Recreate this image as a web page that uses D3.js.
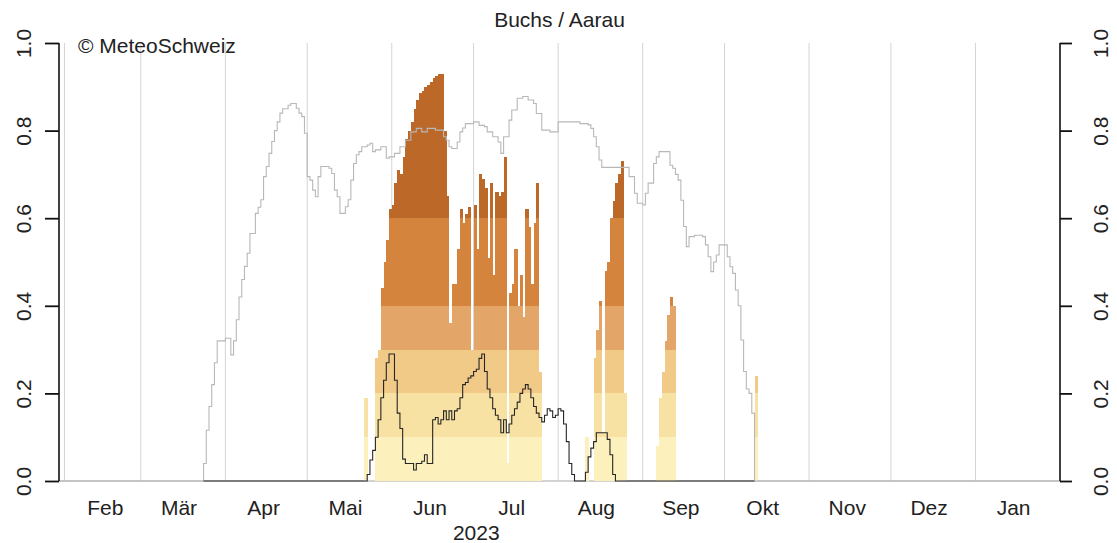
<!DOCTYPE html>
<html><head><meta charset="utf-8">
<script src="https://cdn.jsdelivr.net/npm/d3@7"></script>
<style>
body{margin:0;background:#fff}
svg{display:block;font-family:"Liberation Sans",Arial,Helvetica,sans-serif}
</style>
</head><body>
<svg id="chart" width="1117" height="543"></svg>
<script>
// ---------- data ----------
const xDomain = ["2023-01-30", "2024-02-01"];
const yTicks = [0, 0.2, 0.4, 0.6, 0.8, 1.0];
const monthLabels = ["Feb","Mär","Apr","Mai","Jun","Jul","Aug","Sep","Okt","Nov","Dez","Jan"];
const monthLabelDates = ["2023-02-16","2023-03-15","2023-04-15","2023-05-15","2023-06-15","2023-07-15",
  "2023-08-15","2023-09-15","2023-10-15","2023-11-15","2023-12-15","2024-01-15"];
const gridDates = ["2023-02-01","2023-03-01","2023-04-01","2023-05-01","2023-06-01","2023-07-01",
  "2023-08-01","2023-09-01","2023-10-01","2023-11-01","2023-12-01","2024-01-01"];
const yearLabel = "2023";
const yearLabelDate = "2023-07-02";
const titleText = "Buchs / Aarau";
const creditText = "© MeteoSchweiz";

// class edges and colours of the daily bars
const bandEdges = [0, 0.1, 0.2, 0.3, 0.4, 0.6, 1.0];
const bandColors = ["#fcf1bd", "#f8e2a3", "#f2ca88", "#e4a569", "#d4843d", "#bb6828"];

// daily bar values, grouped in bursts (first day, values)
const burstStarts = ["2023-05-22", "2023-08-11", "2023-09-06", "2023-10-12"];
const burstValues = [
  [0.19, 0, 0, 0, 0.28, 0.30, 0.44, 0.50, 0.55, 0.62, 0.63, 0.68, 0.71, 0.70, 0.74, 0.78, 0.80, 0.82,
   0.85, 0.87, 0.885, 0.89, 0.90, 0.905, 0.91, 0.92, 0.925, 0.93, 0.93, 0.80, 0.65, 0.36, 0.45, 0.45,
   0.53, 0.62, 0.59, 0.61, 0.625, 0.30, 0.63, 0.53, 0.70, 0.69, 0.67, 0.51, 0.68, 0.47, 0.66, 0.65,
   0.66, 0.74, 0.04, 0.43, 0.45, 0.53, 0.40, 0.47, 0.375, 0.62, 0.58, 0.45, 0.59, 0.68, 0.25],
  [0.10, 0, 0, 0.28, 0.345, 0.41, 0.11, 0.48, 0.50, 0.60, 0.64, 0.68, 0.70, 0.73, 0.20],
  [0.08, 0.19, 0.25, 0.32, 0.38, 0.42, 0.40],
  [0.24]
];

// grey step line (breakpoints)
const greyDates = ["2023-01-30","2023-03-23","2023-03-24","2023-03-25","2023-03-26","2023-03-27","2023-03-28",
 "2023-03-29","2023-04-01","2023-04-03","2023-04-04","2023-04-05","2023-04-06","2023-04-07","2023-04-08",
 "2023-04-09","2023-04-10","2023-04-12","2023-04-13","2023-04-14","2023-04-15","2023-04-16","2023-04-17",
 "2023-04-18","2023-04-19","2023-04-20","2023-04-21","2023-04-22","2023-04-24","2023-04-25","2023-04-27",
 "2023-04-28","2023-04-29","2023-04-30","2023-05-01","2023-05-02","2023-05-03","2023-05-04","2023-05-05",
 "2023-05-06","2023-05-09","2023-05-10","2023-05-11","2023-05-12","2023-05-13","2023-05-15","2023-05-16",
 "2023-05-17","2023-05-18","2023-05-19","2023-05-20","2023-05-21","2023-05-23","2023-05-24","2023-05-25",
 "2023-05-26","2023-05-28","2023-05-30","2023-05-31","2023-06-02","2023-06-04","2023-06-06","2023-06-08",
 "2023-06-10","2023-06-12","2023-06-14","2023-06-17","2023-06-20","2023-06-21","2023-06-22","2023-06-23",
 "2023-06-25","2023-06-26","2023-06-27","2023-06-28","2023-07-01","2023-07-03","2023-07-05","2023-07-06",
 "2023-07-08","2023-07-10","2023-07-11","2023-07-12","2023-07-14","2023-07-15","2023-07-17","2023-07-19",
 "2023-07-21","2023-07-23","2023-07-24","2023-07-26","2023-07-29","2023-08-01","2023-08-09","2023-08-12",
 "2023-08-13","2023-08-14","2023-08-15","2023-08-16","2023-08-17","2023-08-27","2023-08-29","2023-08-30",
 "2023-09-01","2023-09-02","2023-09-03","2023-09-05","2023-09-06","2023-09-07","2023-09-11","2023-09-12",
 "2023-09-13","2023-09-14","2023-09-15","2023-09-16","2023-09-17","2023-09-18","2023-09-20","2023-09-23",
 "2023-09-24","2023-09-25","2023-09-26","2023-09-27","2023-09-28","2023-09-29","2023-10-02","2023-10-03",
 "2023-10-04","2023-10-05","2023-10-06","2023-10-07","2023-10-08","2023-10-09","2023-10-10","2023-10-11",
 "2023-10-12","2024-02-01"];
const greyValues = [0,0,0.04,0.116,0.17,0.22,0.27,
 0.32,0.326,0.288,0.32,0.368,0.42,0.46,0.49,
 0.52,0.565,0.611,0.625,0.642,0.695,0.718,0.748,
 0.775,0.80,0.82,0.84,0.85,0.858,0.862,0.851,
 0.84,0.832,0.794,0.695,0.687,0.664,0.649,0.695,
 0.718,0.714,0.702,0.664,0.649,0.611,0.626,0.642,
 0.687,0.725,0.745,0.752,0.763,0.767,0.771,0.752,
 0.756,0.763,0.737,0.74,0.748,0.763,0.778,0.797,
 0.805,0.797,0.805,0.801,0.786,0.778,0.763,0.759,
 0.774,0.797,0.806,0.816,0.820,0.812,0.809,0.797,
 0.786,0.774,0.748,0.786,0.824,0.847,0.874,0.878,
 0.870,0.862,0.839,0.801,0.797,0.820,0.816,0.813,
 0.805,0.786,0.763,0.733,0.716,0.695,0.657,0.634,
 0.630,0.657,0.68,0.725,0.740,0.752,0.721,0.714,
 0.700,0.687,0.641,0.581,0.535,0.558,0.561,0.558,
 0.539,0.512,0.478,0.50,0.516,0.539,0.512,0.489,
 0.474,0.436,0.40,0.322,0.25,0.21,0.2,0.155,
 0,0];

// black step line: season bounds and daily values
const blackBounds = ["2023-03-24", "2023-10-12"];
const blackStart = "2023-05-22";
const blackValues = [0,0.015,0.048,0.07,0.10,0.14,0.19,0.23,0.27,0.29,0.29,0.23,0.155,0.12,0.05,0.04,0.04,0.04,
 0.025,0.04,0.04,0.045,0.06,0.04,0.04,0.14,0.145,0.13,0.14,0.16,0.14,0.16,0.14,0.16,0.165,0.19,0.22,0.225,
 0.235,0.24,0.25,0.255,0.28,0.29,0.25,0.21,0.19,0.165,0.15,0.14,0.11,0.14,0.11,0.13,0.15,0.165,0.18,0.20,
 0.21,0.22,0.21,0.19,0.17,0.155,0.145,0.135,0.15,0.165,0.16,0.145,0.15,0.165,0.16,0.13,0.09,0.04,0.015,
 0,0,0,0,0.02,0.055,0.075,0.09,0.11,0.11,0.11,0.11,0.095,0.06,0.015,0];

// ---------- drawing ----------
const parse = d3.timeParse("%Y-%m-%d");
const svg = d3.select("#chart");
const FS = 21;

const x = d3.scaleTime().domain(xDomain.map(parse)).range([59, 1060]);
const y = d3.scaleLinear().domain([0, 1]).range([481, 43]);

// month grid lines
svg.append("g").selectAll("line").data(gridDates.map(parse)).join("line")
  .attr("x1", d => x(d)).attr("x2", d => x(d))
  .attr("y1", y(1)).attr("y2", y(0))
  .attr("stroke", "#d4d4d4").attr("stroke-width", 1);

// baseline
svg.append("line").attr("x1", x.range()[0]).attr("x2", x.range()[1])
  .attr("y1", y(0)).attr("y2", y(0)).attr("stroke", "#c4c4c4").attr("stroke-width", 1.5);

// daily bars split into classes
const barRects = [];
burstStarts.forEach((s, bi) => {
  const d0 = parse(s);
  burstValues[bi].forEach((v, i) => {
    if (v <= 0) return;
    const day = d3.timeDay.offset(d0, i), next = d3.timeDay.offset(d0, i + 1);
    for (let b = 0; b < bandColors.length; b++) {
      const lo = bandEdges[b], hi = Math.min(v, bandEdges[b + 1]);
      if (hi <= lo) break;
      barRects.push({day, next, lo, hi, color: bandColors[b]});
    }
  });
});
svg.append("g").attr("shape-rendering", "crispEdges").selectAll("rect").data(barRects).join("rect")
  .attr("x", d => x(d.day)).attr("width", d => x(d.next) - x(d.day) + 0.4)
  .attr("y", d => y(d.hi)).attr("height", d => y(d.lo) - y(d.hi))
  .attr("fill", d => d.color);

// grey step line
const greyPts = greyDates.map((d, i) => [parse(d), greyValues[i]]);
const stepLine = d3.line().x(d => x(d[0])).y(d => y(d[1])).curve(d3.curveStepAfter);
svg.append("path").attr("d", stepLine(greyPts)).attr("fill", "none")
  .attr("stroke", "#b8b8b8").attr("stroke-width", 1.1);

// black step line
const bStart = parse(blackStart);
const blackPts = [[parse(blackBounds[0]), 0]]
  .concat(blackValues.map((v, i) => [d3.timeDay.offset(bStart, i), v]))
  .concat([[parse(blackBounds[1]), 0]]);
svg.append("path").attr("d", stepLine(blackPts)).attr("fill", "none")
  .attr("stroke", "#262626").attr("stroke-width", 1.1);

// left axis
const leftAxis = d3.axisLeft(y).tickValues(yTicks).tickSize(14).tickFormat(d3.format(".1f"));
const gl = svg.append("g").attr("transform", `translate(${x.range()[0]},0)`).call(leftAxis);
// right axis
const rightAxis = d3.axisRight(y).tickValues(yTicks).tickSize(12).tickFormat(d3.format(".1f"));
const gr = svg.append("g").attr("transform", `translate(${x.range()[1]},0)`).call(rightAxis);
[gl, gr].forEach(g => {
  g.select(".domain").attr("stroke", "#111").attr("stroke-width", 1.6)
   .attr("d", `M0,${y(1)}V${y(0)}`);
  g.selectAll(".tick line").attr("stroke", "#111").attr("stroke-width", 1.8);
  g.selectAll(".tick text").attr("font-size", FS).attr("fill", "#222")
   .attr("font-family", "Liberation Sans, Arial, sans-serif");
});
gl.selectAll(".tick text").attr("x", null).attr("dy", null).attr("text-anchor", "middle")
  .attr("transform", "translate(-28,0) rotate(-90)");
gr.selectAll(".tick text").attr("x", null).attr("dy", null).attr("text-anchor", "middle")
  .attr("transform", "translate(48,0) rotate(-90)");

// month labels
svg.append("g").selectAll("text").data(monthLabels).join("text")
  .attr("x", (d, i) => x(parse(monthLabelDates[i]))).attr("y", 515)
  .attr("text-anchor", "middle").attr("font-size", FS).attr("fill", "#222").text(d => d);
svg.append("text").attr("x", x(parse(yearLabelDate))).attr("y", 540)
  .attr("text-anchor", "middle").attr("font-size", FS).attr("fill", "#222").text(yearLabel);

// title and credit
svg.append("text").attr("x", (x.range()[0] + x.range()[1]) / 2).attr("y", 27)
  .attr("text-anchor", "middle").attr("font-size", FS).attr("fill", "#222").text(titleText);
svg.append("text").attr("x", 78).attr("y", 53)
  .attr("font-size", FS).attr("fill", "#222").text(creditText);
</script>
</body></html>
